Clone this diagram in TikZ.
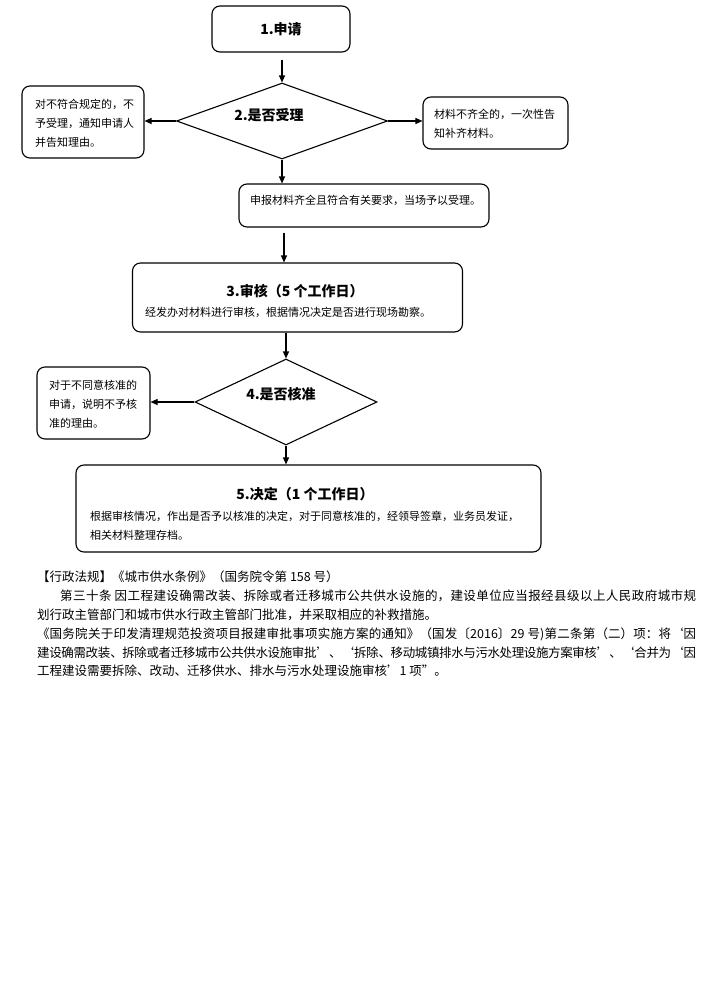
\documentclass[tikz,border=0pt]{standalone}
\usepackage{fontspec}
\newfontfamily\cjk{Noto Sans CJK SC}
\XeTeXlinebreaklocale "zh"
\XeTeXlinebreakskip=0pt plus 2pt minus 0.9pt
\usetikzlibrary{arrows.meta,shapes.geometric}

\begin{document}
\begin{tikzpicture}[x=1pt,y=-1pt,>={Triangle[length=7pt,width=6pt]},
  box/.style={draw,rounded corners=8pt,line width=1.1pt},
  decide/.style={draw,diamond,line width=1.1pt,inner sep=0pt},
  txt/.style={font=\cjk\fontsize{11}{19}\selectfont,align=left,inner sep=0pt},
  head/.style={font=\cjk\bfseries\fontsize{14}{16}\selectfont,inner sep=0pt},
  flow/.style={->,line width=1.1pt}]
  \useasboundingbox (0,0) rectangle (722,982);

  % 1. application
  \node[box,head,minimum width=138pt,minimum height=46pt] (apply) at (281,29) {1.申请};

  % 2. accept or not
  \node[decide,minimum width=211pt,minimum height=76pt] (accept) at (282,121) {};
  \node[head] (acceptt) at (269,115) {2.是否受理};
  \node[box,minimum width=122pt,minimum height=72pt] (refuse) at (83,122) {};
  \node[txt,anchor=west] (refuset) at (35,123.5) {对不符合规定的，不\\予受理，通知申请人\\并告知理由。};
  \node[box,minimum width=145pt,minimum height=52pt] (supply) at (495.5,123) {};
  \node[txt,anchor=west] (supplyt) at (434,123.5) {材料不齐全的，一次性告\\知补齐材料。};
  \node[box,minimum width=250pt,minimum height=43pt] (onsite) at (364,205.5) {};
  \node[txt,anchor=west] (onsitet) at (250,200) {申报材料齐全且符合有关要求，当场予以受理。};

  % 3. review
  \node[box,minimum width=330pt,minimum height=69pt] (review) at (297.5,297.5) {};
  \node[head] (reviewt) at (295,291) {3.审核（5 个工作日）};
  \node[txt,anchor=west] (reviewb) at (145,312) {经发办对材料进行审核，根据情况决定是否进行现场勘察。};

  % 4. approve or not
  \node[decide,minimum width=182pt,minimum height=86pt] (approve) at (286,402) {};
  \node[head] (approvet) at (281,394) {4.是否核准};
  \node[box,minimum width=113pt,minimum height=72pt] (deny) at (93.5,403) {};
  \node[txt,anchor=west] (denyt) at (49,404) {对于不同意核准的\\申请，说明不予核\\准的理由。};

  % 5. decision
  \node[box,minimum width=465pt,minimum height=87pt] (decision) at (308.5,508.5) {};
  \node[head] (decisiont) at (305,494) {5.决定（1 个工作日）};
  \node[txt,anchor=west] (decisionb) at (90,525.5) {根据审核情况，作出是否予以核准的决定，对于同意核准的，经领导签章，业务员发证，\\相关材料整理存档。};

  % arrows
  \draw[flow,shorten <=7pt] (accept.north |- apply.south) -- (accept.north);
  \draw[flow] (accept.west) -- (accept.west -| refuse.east);
  \draw[flow] (accept.east) -- (accept.east -| supply.west);
  \draw[flow] (accept.south) -- (accept.south |- onsite.north);
  \draw[flow,shorten <=5pt] ([xshift=2pt]accept.south |- onsite.south) -- ([xshift=2pt]accept.south |- review.north);
  \draw[flow] (approve.north |- review.south) -- (approve.north);
  \draw[flow] (approve.west) -- (approve.west -| deny.east);
  \draw[flow] (approve.south) -- (approve.south |- decision.north);

  % legal basis
  \node[anchor=north west,text width=659pt,align=justify,inner sep=0pt,
    font=\cjk\fontsize{12.5}{18.8}\selectfont] (law) at (37,571) {%
【行政法规】《城市供水条例》（国务院令第 158 号）\\%
\hspace*{23pt}第三十条 因工程建设确需改装、拆除或者迁移城市公共供水设施的，建设单位应当报经县级以上人民政府城市规\linebreak%
划行政主管部门和城市供水行政主管部门批准，并采取相应的补救措施。\\%
《国务院关于印发清理规范投资项目报建审批事项实施方案的通知》（国发〔2016〕29 号)第二条第（二）项：将‘因\linebreak%
建设确需改装、拆除或者迁移城市公共供水设施审批’、‘拆除、移动城镇排水与污水处理设施方案审核’、‘合并为‘因\linebreak%
工程建设需要拆除、改动、迁移供水、排水与污水处理设施审核’1 项”。};
\end{tikzpicture}
\end{document}
